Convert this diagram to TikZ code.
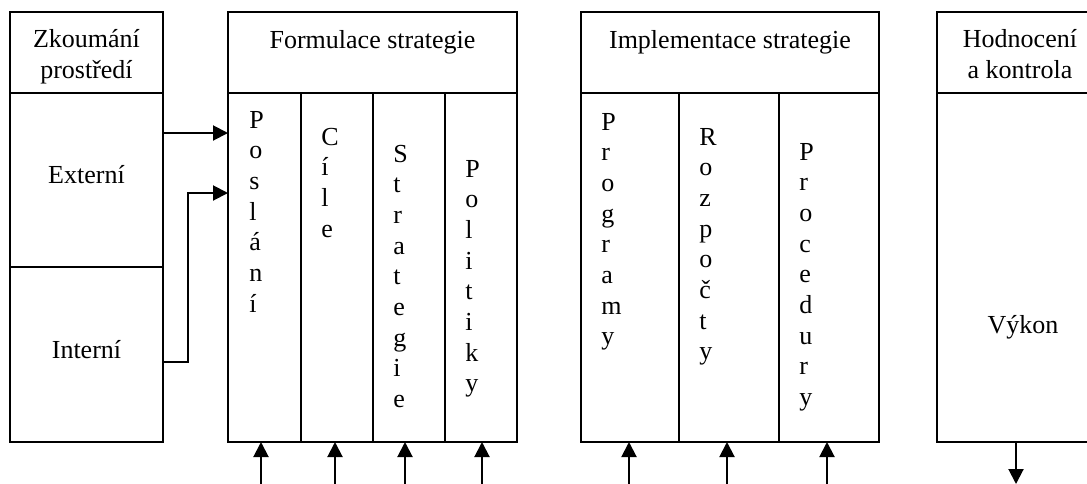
\documentclass[tikz,border=0pt]{standalone}
\usepackage{fontspec}
\setmainfont{Liberation Serif}
\usetikzlibrary{arrows.meta}
\tikzset{
    box/.style={draw=black, line width=1pt},
    word/.style={anchor=base, inner sep=0pt, font=\fontsize{13pt}{15.4pt}\selectfont},
    column/.style={anchor=base west, inner sep=0pt, align=left, text width=12pt,
        font=\fontsize{13pt}{15.35pt}\selectfont},
    arr/.style={line width=1pt, -{Triangle[length=7.5pt, width=7.5pt]}}
}
\begin{document}
\begin{tikzpicture}[x=0.5pt, y=-0.5pt]
    \useasboundingbox (0,0) rectangle (1087,483);
    \clip (0,0) rectangle (1087,483);
    % boxes
    \draw[box] (10,12) rectangle (163,442);
    \draw[box] (10,93) -- (163,93) (10,267) -- (163,267);
    \draw[box] (228,12) rectangle (517,442);
    \draw[box] (228,93) -- (517,93);
    \foreach \x in {301,373,445}
        \draw[box] (\x,93) -- (\x,442);
    \draw[box] (581,12) rectangle (879,442);
    \draw[box] (581,93) -- (879,93);
    \foreach \x in {679,779}
        \draw[box] (\x,93) -- (\x,442);
    \draw[box] (937,12) rectangle (1105,442);
    \draw[box] (937,93) -- (1105,93);
    % headers
    \node[word] (zkoum) at (86.5,47) {Zkoumání};
    \node[word] (prostr) at (86.5,78) {prostředí};
    \node[word] (formul) at (372.5,48) {Formulace strategie};
    \node[word] (implem) at (730,48) {Implementace strategie};
    \node[word] (hodnoc) at (1020,47) {Hodnocení};
    \node[word] (kontr) at (1020,78) {a kontrola};
    \node[word] (extern) at (86.5,183) {Externí};
    \node[word] (intern) at (86.5,358) {Interní};
    \node[word] (vykon) at (1023,333) {Výkon};
    % columns
    \node[column] (poslani) at (249,128) {P\\o\\s\\l\\á\\n\\í};
    \node[column] (cile) at (321,145) {C\\í\\l\\e};
    \node[column] (strat) at (393,162) {S\\t\\r\\a\\t\\e\\g\\i\\e};
    \node[column] (polit) at (465,177) {P\\o\\l\\i\\t\\i\\k\\y};
    \node[column] (progr) at (601,130) {P\\r\\o\\g\\r\\a\\m\\y};
    \node[column] (rozp) at (699,145) {R\\o\\z\\p\\o\\č\\t\\y};
    \node[column] (proced) at (799,160) {P\\r\\o\\c\\e\\d\\u\\r\\y};
    % connectors
    \coordinate (extout) at (163,133);
    \coordinate (extin) at (228,133);
    \coordinate (intout) at (163,362);
    \coordinate (intin) at (228,193);
    \draw[arr] (extout) -- (extin);
    \draw[arr] (intout) -| (188,193) -- (intin);
    \foreach \x [count=\i] in {261,335,405,482,629,727,827} {
        \coordinate (foot\i) at (\x,490);
        \coordinate (head\i) at (\x,442);
        \draw[arr] (foot\i) -- (head\i);
    }
    \coordinate (vykonout) at (1016,442);
    \coordinate (vykonend) at (1016,484);
    \draw[arr] (vykonout) -- (vykonend);
\end{tikzpicture}
\end{document}
